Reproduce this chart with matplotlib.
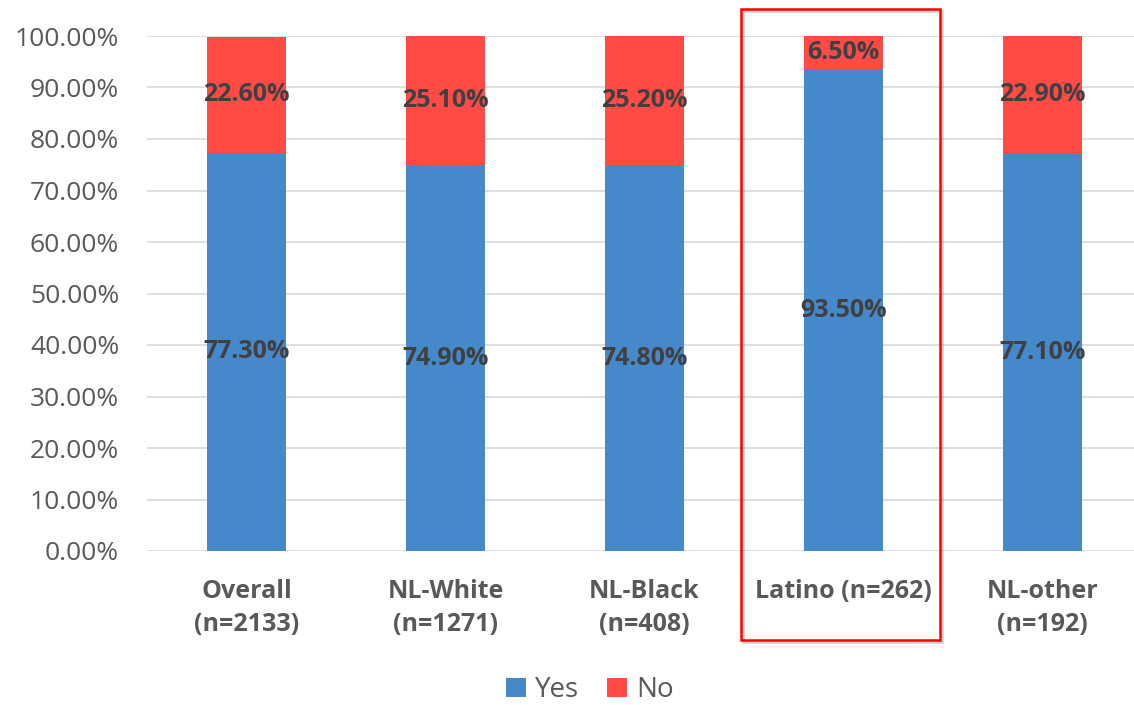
import matplotlib
matplotlib.use("Agg")
import matplotlib.pyplot as plt
import matplotlib.patheffects as pe
from matplotlib.patches import Rectangle
from matplotlib.ticker import FuncFormatter

categories = ["Overall\n(n=2133)", "NL-White\n(n=1271)", "NL-Black\n(n=408)",
              "Latino (n=262)", "NL-other\n(n=192)"]
yes_vals = [77.3, 74.9, 74.8, 93.5, 77.1]
no_vals = [22.6, 25.1, 25.2, 6.5, 22.9]

BLUE = "#4589CB"
RED = "#FF4A46"
TXT = "#595959"
LBL = "#404040"

plt.rcParams["font.family"] = ["Open Sans", "DejaVu Sans"]

fig = plt.figure(figsize=(11.34, 7.05), dpi=100)
ax = fig.add_axes([147/1134, 154/705, (1134-147)/1134, 515/705])

x = range(len(categories))
ax.bar(x, yes_vals, width=0.4, color=BLUE, label="Yes", zorder=2)
ax.bar(x, no_vals, width=0.4, bottom=yes_vals, color=RED, label="No", zorder=2)

for i, (y, n) in enumerate(zip(yes_vals, no_vals)):
    ax.text(i, y/2, "%.2f%%" % y, ha="center", va="center", fontsize=18,
            fontweight="bold", color=LBL, zorder=3)
    ax.text(i, y + n/2, "%.2f%%" % n, ha="center", va="center", fontsize=18,
            fontweight="bold", color=LBL, zorder=3)

ax.set_xlim(-0.5, 4.46)
ax.set_ylim(0, 100)
ax.set_yticks(range(0, 101, 10))
ax.yaxis.set_major_formatter(FuncFormatter(lambda v, p: "%.2f%%" % v))
ax.set_xticks(list(x))
ax.set_xticklabels(categories, fontweight="bold", fontsize=18, color=TXT, linespacing=1.45)
ax.tick_params(axis="y", labelsize=19, labelcolor=TXT, length=0, pad=20)
ax.tick_params(axis="x", length=0, pad=20)
ax.grid(axis="y", color="#D9D9D9", lw=1.2, zorder=0)
for s in ax.spines.values():
    s.set_visible(False)

ax.legend(loc="center", bbox_to_anchor=(590/1134, 15/705), bbox_transform=fig.transFigure,
          ncol=2, frameon=False, fontsize=20, handlelength=0.7, handleheight=0.7,
          handletextpad=0.35, columnspacing=1.0, labelcolor=TXT)

box = Rectangle((741/1134, 65/705), 199/1134, 631/705, transform=fig.transFigure,
                fill=False, edgecolor="#FF0000", lw=1.8, zorder=5,
                path_effects=[pe.SimpleLineShadow(offset=(1.5, -1.5), shadow_color="#999999", alpha=0.5),
                              pe.Normal()])
fig.add_artist(box)

fig.savefig("out.png", dpi=100)
